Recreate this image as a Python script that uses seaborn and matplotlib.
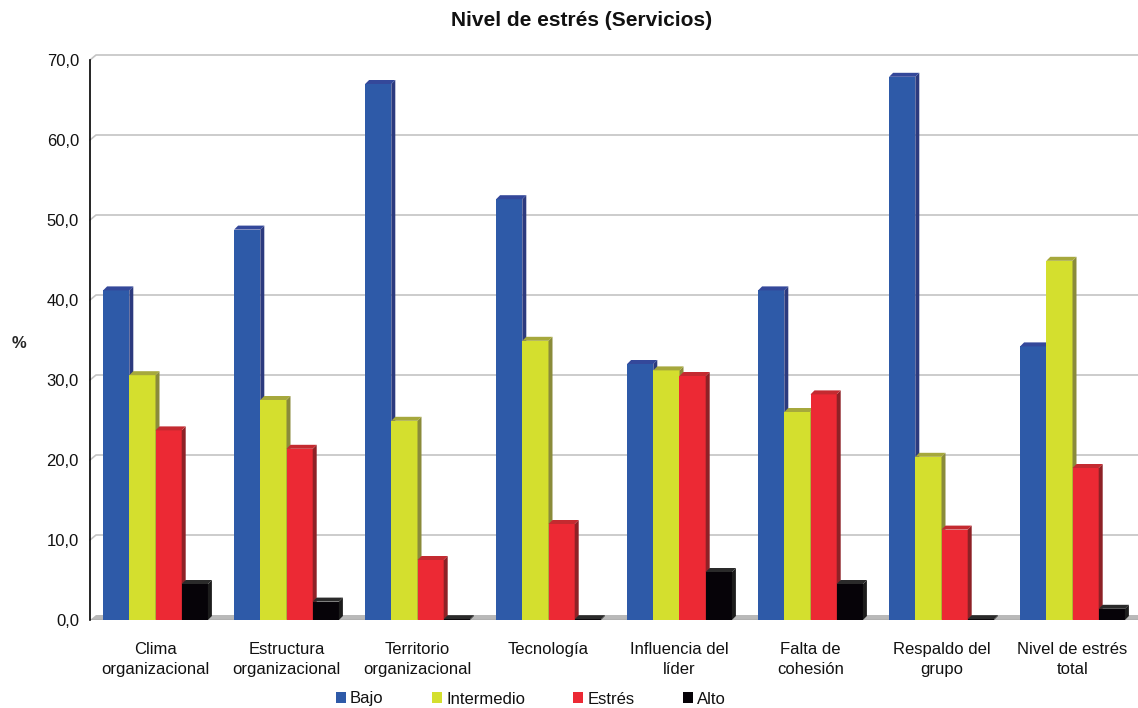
import matplotlib
matplotlib.use("Agg")  # no display
import matplotlib.pyplot as plt
from matplotlib.patches import Polygon, Patch
import seaborn as sns
import pandas as pd

# --- data ---
categories = ["Clima\norganizacional", "Estructura\norganizacional",
              "Territorio\norganizacional", "Tecnología",
              "Influencia del\nlíder", "Falta de\ncohesión",
              "Respaldo del\ngrupo", "Nivel de estrés\ntotal"]
levels = ["Bajo", "Intermedio", "Estrés", "Alto"]
bajo       = [41.2, 48.8, 67.0, 52.6, 32.0, 41.2, 67.9, 34.2]
intermedio = [30.6, 27.5, 24.9, 34.9, 31.2, 26.0, 20.4, 44.9]
estres     = [23.7, 21.4,  7.5, 12.0, 30.5, 28.2, 11.3, 19.0]
alto       = [ 4.5,  2.3,  0.1,  0.1,  6.0,  4.5,  0.1,  1.4]
y_ticks = [0, 10, 20, 30, 40, 50, 60, 70]

front = {"Bajo": "#2E5AA8", "Intermedio": "#D4DF2E", "Estrés": "#EC2934", "Alto": "#060308"}
side  = {"Bajo": "#2C3A7E", "Intermedio": "#8A8B3A", "Estrés": "#8E2126", "Alto": "#1C1C1C"}
top   = {"Bajo": "#34489A", "Intermedio": "#A6A83C", "Estrés": "#C42A30", "Alto": "#2A2A2A"}

df = pd.DataFrame({
    "cat": categories * 4,
    "nivel": [l for l in levels for _ in categories],
    "val": bajo + intermedio + estres + alto,
})

sns.set_style("white")
plt.rcParams["font.family"] = ["Liberation Sans", "DejaVu Sans"]

W, H = 1138, 708
fig = plt.figure(figsize=(W / 100, H / 100), dpi=100)
ax = fig.add_axes([90 / W, (H - 620) / H, (W - 90) / W, 560 / H])

sns.barplot(data=df, x="cat", y="val", hue="nivel", order=categories,
            hue_order=levels, palette=front, width=0.8, saturation=1,
            linewidth=0, legend=False, ax=ax)

ax.set_xlim(-0.5, 7.5)
ax.set_ylim(0, 70)

# pixel -> data conversions for the fake 3D depth
px_x = 8 / (W - 90)
px_y = 70 / 560
dx, dy = 4 * px_x, 4 * px_y        # bar depth
gdx, gdy = 6 * px_x, 5 * px_y      # back wall offset

# back-wall gridlines with the little slanted lead-in
for v in y_ticks[1:]:
    ax.plot([-0.5, -0.5 + gdx, 7.5], [v, v + gdy, v + gdy],
            color="#c4c4c4", lw=1.2, zorder=0.5, clip_on=False)

# grey floor
ax.add_patch(Polygon([(-0.5, 0), (7.5, 0), (7.5, gdy), (-0.5 + gdx, gdy)],
                     closed=True, fc="#b9b9b9", ec="none", zorder=0.6,
                     clip_on=False))
ax.axhline(0, color="#b0b0b0", lw=1.5, zorder=0.7)

# side and top faces of each bar
for i, (lvl, cont) in enumerate(zip(levels, ax.containers)):
    for rect in cont:
        z = 2 + i
        rect.set_zorder(z)
        x0, w, h = rect.get_x(), rect.get_width(), rect.get_height()
        ax.add_patch(Polygon([(x0 + w, 0), (x0 + w + dx, dy),
                              (x0 + w + dx, h + dy), (x0 + w, h)],
                             closed=True, fc=side[lvl], ec="none", zorder=z,
                             clip_on=False))
        ax.add_patch(Polygon([(x0, h), (x0 + dx, h + dy),
                              (x0 + w + dx, h + dy), (x0 + w, h)],
                             closed=True, fc=top[lvl], ec="none", zorder=z,
                             clip_on=False))

# axes styling
for s in ["top", "right", "bottom"]:
    ax.spines[s].set_visible(False)
ax.spines["left"].set_color("black")
ax.spines["left"].set_linewidth(1.2)
ax.set_yticks(y_ticks)
ax.set_yticklabels([f"{v:.1f}".replace(".", ",") for v in y_ticks], fontsize=12)
ax.tick_params(axis="y", direction="out", length=5, width=1, color="black",
               pad=3, labelcolor="#111111")
ax.tick_params(axis="x", length=0, pad=16, labelcolor="#111111")
ax.set_xticks(range(len(categories)))
ax.set_xticklabels(categories, fontsize=12, linespacing=1.4, va="top")
ax.set_xlabel("")
ax.set_ylabel("%", rotation=0, fontsize=12, fontweight="bold", ha="center", va="center")
ax.yaxis.set_label_coords((19 - 90) / (W - 90), (620 - 343) / 560)

fig.text(582 / W, 1 - 21 / H, "Nivel de estrés (Servicios)", ha="center",
         va="center", fontsize=15, fontweight="bold", color="#111111")

handles = [Patch(fc=front[l], ec="none") for l in levels]
fig.legend(handles, levels, ncol=4, loc="center", frameon=False,
           bbox_to_anchor=(531 / W, 1 - 699 / H), handlelength=0.6,
           handleheight=0.6, handletextpad=0.25, columnspacing=2.9,
           fontsize=12, labelcolor="#111111")

fig.savefig("out.png", dpi=100)
